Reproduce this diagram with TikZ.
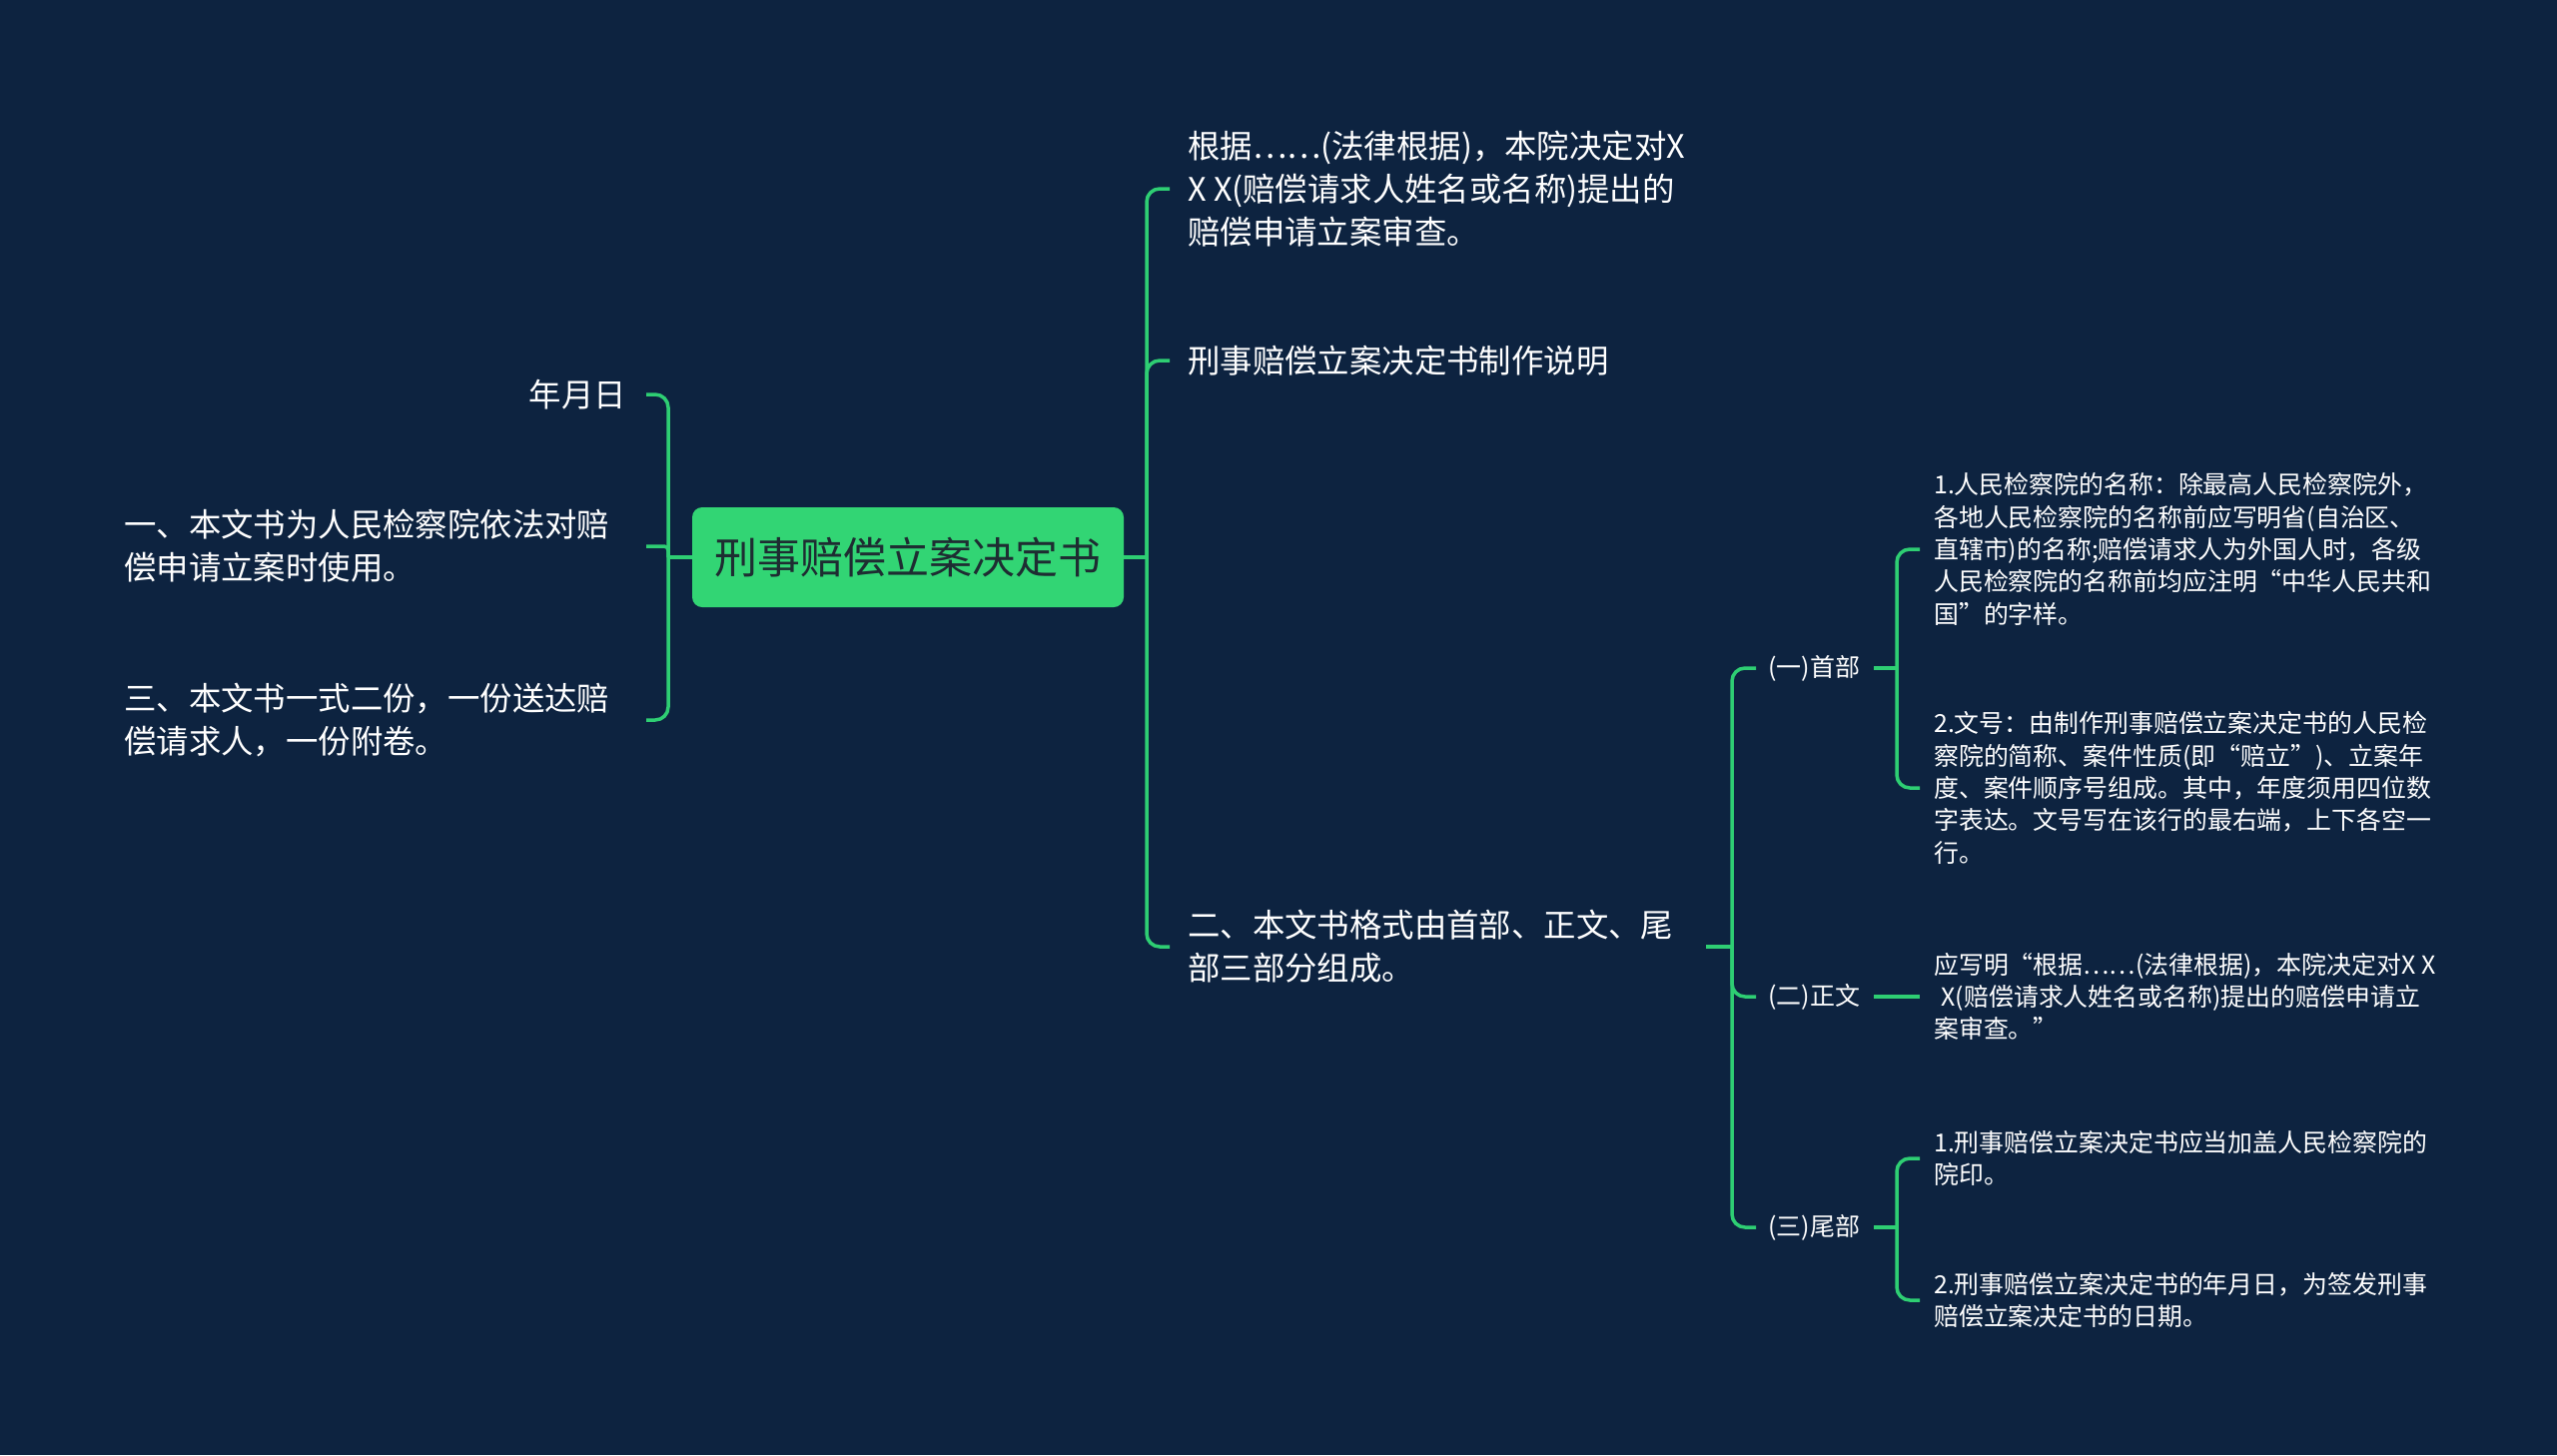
\documentclass[tikz,border=0pt]{standalone}
\usepackage{fontspec}
\setmainfont{Noto Sans CJK SC}
\definecolor{bg}{RGB}{13,35,64}
\definecolor{ln}{RGB}{46,206,115}
\definecolor{rootfill}{RGB}{50,213,116}
\definecolor{roottext}{RGB}{30,45,50}
\begin{document}
\begin{tikzpicture}[x=1pt,y=-1pt,
 conn/.style={draw=ln, line width=3.5pt, rounded corners=13pt},
 main/.style={text=white, inner sep=0pt, align=left, font=\fontsize{32.4}{43}\selectfont},
 sublab/.style={text=white, inner sep=0pt, align=left, font=\fontsize{25}{32}\selectfont},
 leaf/.style={text=white, inner sep=0pt, align=left, font=\fontsize{24.9}{32.3}\selectfont},
 rootbox/.style={fill=rootfill, rounded corners=10pt, minimum width=432pt, minimum height=100pt, inner sep=0pt, text=roottext, font=\fontsize{43}{50}\selectfont}]
\fill[bg] (0,0) rectangle (2560,1457);
\useasboundingbox (0,0) rectangle (2560,1457);

% root
\node[rootbox] (root) at (909,558) {刑事赔偿立案决定书};

% left children
\node[main, anchor=east] (nyr) at (627,395) {年月日};
\node[main, anchor=west] (yi) at (124,547) {一、本文书为人民检察院依法对赔\\偿申请立案时使用。};
\node[main, anchor=west] (san) at (124,721) {三、本文书一式二份，一份送达赔\\偿请求人，一份附卷。};

% right children
\node[main, anchor=west] (g1) at (1189,189) {根据……(法律根据)，本院决定对X\\X X(赔偿请求人姓名或名称)提出的\\赔偿申请立案审查。};
\node[main, anchor=west] (g2) at (1189,361) {刑事赔偿立案决定书制作说明};
\node[main, anchor=west] (g3) at (1189,948) {二、本文书格式由首部、正文、尾\\部三部分组成。};

% sub labels
\node[sublab, anchor=west] (h1) at (1770,669) {(一)首部};
\node[sublab, anchor=west] (h2) at (1770,998) {(二)正文};
\node[sublab, anchor=west] (h3) at (1770,1229) {(三)尾部};

% leaves
\node[leaf, anchor=west] (q1) at (1936,550) {1.人民检察院的名称：除最高人民检察院外，\\各地人民检察院的名称前应写明省(自治区、\\直辖市)的名称;赔偿请求人为外国人时，各级\\人民检察院的名称前均应注明“中华人民共和\\国”的字样。};
\node[leaf, anchor=west] (q2) at (1936,789) {2.文号：由制作刑事赔偿立案决定书的人民检\\察院的简称、案件性质(即“赔立”)、立案年\\度、案件顺序号组成。其中，年度须用四位数\\字表达。文号写在该行的最右端，上下各空一\\行。};
\node[leaf, anchor=west] (z1) at (1936,998) {应写明“根据……(法律根据)，本院决定对X X\\\hspace*{0.3em}X(赔偿请求人姓名或名称)提出的赔偿申请立\\案审查。”};
\node[leaf, anchor=west] (w1) at (1936,1160) {1.刑事赔偿立案决定书应当加盖人民检察院的\\院印。};
\node[leaf, anchor=west] (w2) at (1936,1302) {2.刑事赔偿立案决定书的年月日，为签发刑事\\赔偿立案决定书的日期。};

% bus coordinates
\coordinate (lb) at (669,0);
\coordinate (le) at (647,0);
\coordinate (rb) at (1148,0);
\coordinate (re) at (1171,0);
\coordinate (s2) at (1708,0);
\coordinate (bb) at (1734,0);
\coordinate (be) at (1758,0);
\coordinate (s3) at (1876,0);
\coordinate (cb) at (1899,0);
\coordinate (ce) at (1922,0);

% left connectors
\draw[conn] (root.west) -- (lb |- root.west);
\draw[conn] (lb |- root.west) -- (lb |- nyr.center) -- (le |- nyr.center);
\draw[conn] (lb |- root.west) -- (lb |- san.center) -- (le |- san.center);
\draw[conn, rounded corners=4pt] (lb |- root.west) -- (lb |- yi.center) -- (le |- yi.center);
% right connectors
\draw[conn] (root.east) -- (rb |- root.east);
\foreach \c in {g1,g2,g3}{
  \draw[conn] (rb |- root.east) -- (rb |- \c.west) -- (re |- \c.west);
}
% sub connectors
\draw[conn] (s2 |- g3.west) -- (bb |- g3.west);
\foreach \c in {h1,h2,h3}{
  \draw[conn] (bb |- g3.west) -- (bb |- \c.west) -- (be |- \c.west);
}
\draw[conn] (s3 |- h1.west) -- (cb |- h1.west);
\foreach \c in {q1,q2}{
  \draw[conn] (cb |- h1.west) -- (cb |- \c.west) -- (ce |- \c.west);
}
\draw[conn] (s3 |- h2.west) -- (ce |- h2.west);
\draw[conn] (s3 |- h3.west) -- (cb |- h3.west);
\foreach \c in {w1,w2}{
  \draw[conn] (cb |- h3.west) -- (cb |- \c.west) -- (ce |- \c.west);
}
\end{tikzpicture}
\end{document}
